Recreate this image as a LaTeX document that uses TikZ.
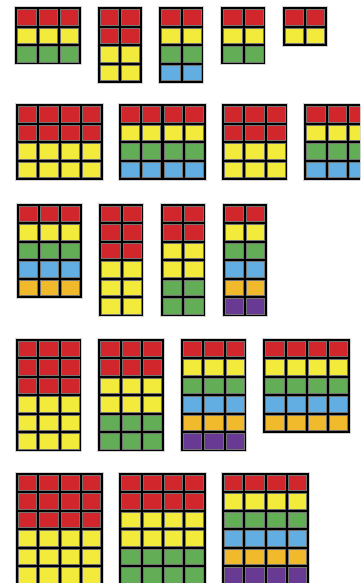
\documentclass[tikz,border=0pt]{standalone}
\usepackage{xcolor}

\definecolor{cellred}{HTML}{D1262B}
\definecolor{cellyellow}{HTML}{F3EB3B}
\definecolor{cellgreen}{HTML}{63AD57}
\definecolor{cellblue}{HTML}{62AEE2}
\definecolor{cellorange}{HTML}{F1BA2D}
\definecolor{cellpurple}{HTML}{693A93}

\newcommand{\cellw}{21.3}
\newcommand{\cellh}{18.5}
% #1,#2 top left corner, #3 columns, #4 rows, #5 colour of each row
\newcommand{\colorgrid}[5]{%
  \fill[gray!35] ({#1-1.8},{#2-1.8}) rectangle ({#1+#3*\cellw+1.8},{#2+#4*\cellh+1.8});
  \fill[black] ({#1-0.8},{#2-0.8}) rectangle ({#1+#3*\cellw+0.8},{#2+#4*\cellh+0.8});
  \foreach \rowc [count=\r from 0] in {#5}
    \foreach \k in {1,...,#3}
      \draw[cell,fill=\rowc] ({#1+(\k-1)*\cellw+1.6},{#2+\r*\cellh+1.6}) rectangle ({#1+\k*\cellw-1.6},{#2+(\r+1)*\cellh-1.6});
}

\tikzset{cell/.style={draw=black!55,line width=0.4pt}}

\begin{document}
\begin{tikzpicture}[x=1pt,y=-1pt]
        \useasboundingbox (0,0) rectangle (360,583);
        \clip (0,0) rectangle (360,583);
        % first row
        \colorgrid{16}{8}{3}{3}{cellred,cellyellow,cellgreen}
        \colorgrid{98.5}{8}{2}{4}{cellred,cellred,cellyellow,cellyellow}
        \colorgrid{160}{8}{2}{4}{cellred,cellyellow,cellgreen,cellblue}
        \colorgrid{222}{8}{2}{3}{cellred,cellyellow,cellgreen}
        \colorgrid{283.5}{8}{2}{2}{cellred,cellyellow}
        % second row
        \colorgrid{16.7}{105}{4}{4}{cellred,cellred,cellyellow,cellyellow}
        \colorgrid{119.5}{105}{4}{4}{cellred,cellyellow,cellgreen,cellblue}
        \colorgrid{222.7}{105}{3}{4}{cellred,cellred,cellyellow,cellyellow}
        \colorgrid{305}{105}{4}{4}{cellred,cellyellow,cellgreen,cellblue}
        % third row
        \colorgrid{17.3}{204.5}{3}{5}{cellred,cellyellow,cellgreen,cellblue,cellorange}
        \colorgrid{100}{204.5}{2}{6}{cellred,cellred,cellred,cellyellow,cellyellow,cellyellow}
        \colorgrid{161.7}{204.5}{2}{6}{cellred,cellred,cellyellow,cellyellow,cellgreen,cellgreen}
        \colorgrid{223.3}{204.5}{2}{6}{cellred,cellyellow,cellgreen,cellblue,cellorange,cellpurple}
        % fourth row
        \colorgrid{16.7}{339.5}{3}{6}{cellred,cellred,cellred,cellyellow,cellyellow,cellyellow}
        \colorgrid{99}{339.5}{3}{6}{cellred,cellred,cellyellow,cellyellow,cellgreen,cellgreen}
        \colorgrid{181.7}{339.5}{3}{6}{cellred,cellyellow,cellgreen,cellblue,cellorange,cellpurple}
        \colorgrid{264}{339.5}{4}{5}{cellred,cellyellow,cellgreen,cellblue,cellorange}
        % fifth row
        \colorgrid{16.7}{473.5}{4}{6}{cellred,cellred,cellred,cellyellow,cellyellow,cellyellow}
        \colorgrid{120}{473.5}{4}{6}{cellred,cellred,cellyellow,cellyellow,cellgreen,cellgreen}
        \colorgrid{222.7}{473.5}{4}{6}{cellred,cellyellow,cellgreen,cellblue,cellorange,cellpurple}
    \end{tikzpicture}
\end{document}
